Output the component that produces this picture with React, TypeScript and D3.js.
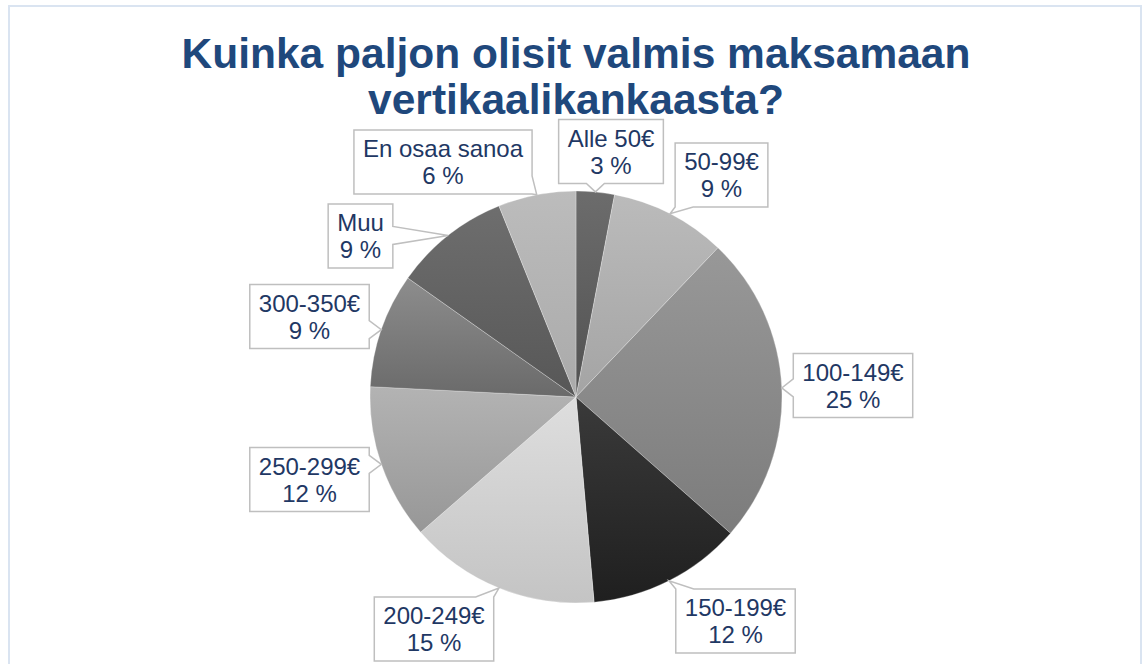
import React, { useEffect, useRef } from "react";
import * as d3 from "d3";

const categories = ["Alle 50€", "50-99€", "100-149€", "150-199€", "200-249€", "250-299€", "300-350€", "Muu", "En osaa sanoa"];
const shares = [3.0, 9.1, 24.4, 12.1, 15.0, 12.2, 9.0, 9.1, 6.1];
const percentLabels = ["3 %", "9 %", "25 %", "12 %", "15 %", "12 %", "9 %", "9 %", "6 %"];
const titleLines = ["Kuinka paljon olisit valmis maksamaan", "vertikaalikankaasta?"];

// styling (gradient top / bottom per slice)
const topColors = ["#6c6c6c", "#bbbbbb", "#989898", "#3a3a3a", "#dedede", "#b3b3b3", "#8d8d8d", "#6e6e6e", "#bcbcbc"];
const bottomColors = ["#525252", "#a4a4a4", "#7c7c7c", "#1f1f1f", "#c4c4c4", "#979797", "#6a6a6a", "#575757", "#aaaaaa"];
// label box centre offsets from pie centre (layout)
const labelOffsets: [number, number][] = [
  [35, -245.5], [145.5, -222], [277, -11.5], [159.5, 224], [-142, 232],
  [-266.5, 82.5], [-266.5, -80.5], [-215.5, -161], [-133, -235],
];

const W = 1143, H = 664;
const CX = 576, CY = 397, R = 206;

function calloutPath(x: number, y: number, w: number, h: number, ax: number, ay: number, base = 18) {
  const cx = x + w / 2, cy = y + h / 2;
  const nx = (ax - cx) / (w / 2), ny = (ay - cy) / (h / 2);
  let side: string;
  if (Math.abs(nx) > Math.abs(ny)) side = nx > 0 ? "right" : "left";
  else side = ny > 0 ? "bottom" : "top";
  const clamp = (v: number, a: number, b: number) => Math.max(a, Math.min(b, v));
  const pts: [number, number][] = [];
  pts.push([x, y]);
  if (side === "top") {
    const c = clamp(ax, x + base / 2, x + w - base / 2);
    pts.push([c - base / 2, y], [ax, ay], [c + base / 2, y]);
  }
  pts.push([x + w, y]);
  if (side === "right") {
    const c = clamp(ay, y + base / 2, y + h - base / 2);
    pts.push([x + w, c - base / 2], [ax, ay], [x + w, c + base / 2]);
  }
  pts.push([x + w, y + h]);
  if (side === "bottom") {
    const c = clamp(ax, x + base / 2, x + w - base / 2);
    pts.push([c + base / 2, y + h], [ax, ay], [c - base / 2, y + h]);
  }
  pts.push([x, y + h]);
  if (side === "left") {
    const c = clamp(ay, y + base / 2, y + h - base / 2);
    pts.push([x, c + base / 2], [ax, ay], [x, c - base / 2]);
  }
  return "M" + pts.map((p) => p.join(",")).join("L") + "Z";
}

export default function App() {
  const ref = useRef<SVGSVGElement>(null);

  useEffect(() => {
    const svg = d3.select(ref.current);
    svg.selectAll("*").remove();

    const defs = svg.append("defs");
    categories.forEach((_, i) => {
      const g = defs.append("linearGradient").attr("id", "grad" + i).attr("x1", 0).attr("y1", 0).attr("x2", 0).attr("y2", 1);
      g.append("stop").attr("offset", "0%").attr("stop-color", topColors[i]);
      g.append("stop").attr("offset", "100%").attr("stop-color", bottomColors[i]);
    });

    svg.append("rect").attr("x", 0).attr("y", 0).attr("width", W).attr("height", H).attr("fill", "#ffffff");
    svg.append("rect").attr("x", 9).attr("y", 6).attr("width", 1132).attr("height", 700)
      .attr("fill", "none").attr("stroke", "#dae4f1").attr("stroke-width", 2);

    const title = svg.append("text").attr("text-anchor", "middle")
      .attr("font-family", "'Liberation Sans', Arial, sans-serif").attr("font-weight", "bold")
      .attr("font-size", 42.5).attr("fill", "#1f487c");
    titleLines.forEach((t, i) => {
      title.append("tspan").attr("x", CX).attr("y", 68 + i * 46).text(t);
    });

    const pie = d3.pie<number>().sort(null).value((d) => d);
    const arcs = pie(shares);
    const arc = d3.arc<d3.PieArcDatum<number>>().innerRadius(0).outerRadius(R);

    const g = svg.append("g").attr("transform", `translate(${CX},${CY})`);
    g.selectAll("path.slice").data(arcs).enter().append("path")
      .attr("class", "slice")
      .attr("d", arc as any)
      .attr("fill", (_, i) => `url(#grad${i})`)
      .attr("stroke", "#ffffff").attr("stroke-opacity", 0.35).attr("stroke-width", 0.8);

    const lg = svg.append("g");
    arcs.forEach((a, i) => {
      const mid = (a.startAngle + a.endAngle) / 2;
      const ax = CX + R * Math.sin(mid);
      const ay = CY - R * Math.cos(mid);
      const bx = CX + labelOffsets[i][0];
      const by = CY + labelOffsets[i][1];
      const grp = lg.append("g");
      const path = grp.append("path");
      const txt = grp.append("text").attr("text-anchor", "middle")
        .attr("font-family", "'Liberation Sans', Arial, sans-serif")
        .attr("font-size", 24).attr("fill", "#1f3864");
      const h = 64;
      const top = by - h / 2;
      const t1 = txt.append("tspan").attr("x", bx).attr("y", top + 27).text(categories[i]);
      const t2 = txt.append("tspan").attr("x", bx).attr("y", top + 54).text(percentLabels[i]);
      const tw = Math.max((t1.node() as any).getComputedTextLength(), (t2.node() as any).getComputedTextLength());
      const w = tw + 18;
      path.attr("d", calloutPath(bx - w / 2, top, w, h, ax, ay))
        .attr("fill", "#ffffff").attr("stroke", "#bfbfbf").attr("stroke-width", 1.5);
    });
  }, []);

  return (
    <svg ref={ref} width={W} height={H} style={{ position: "absolute", left: 0, top: 0, display: "block" }} />
  );
}
